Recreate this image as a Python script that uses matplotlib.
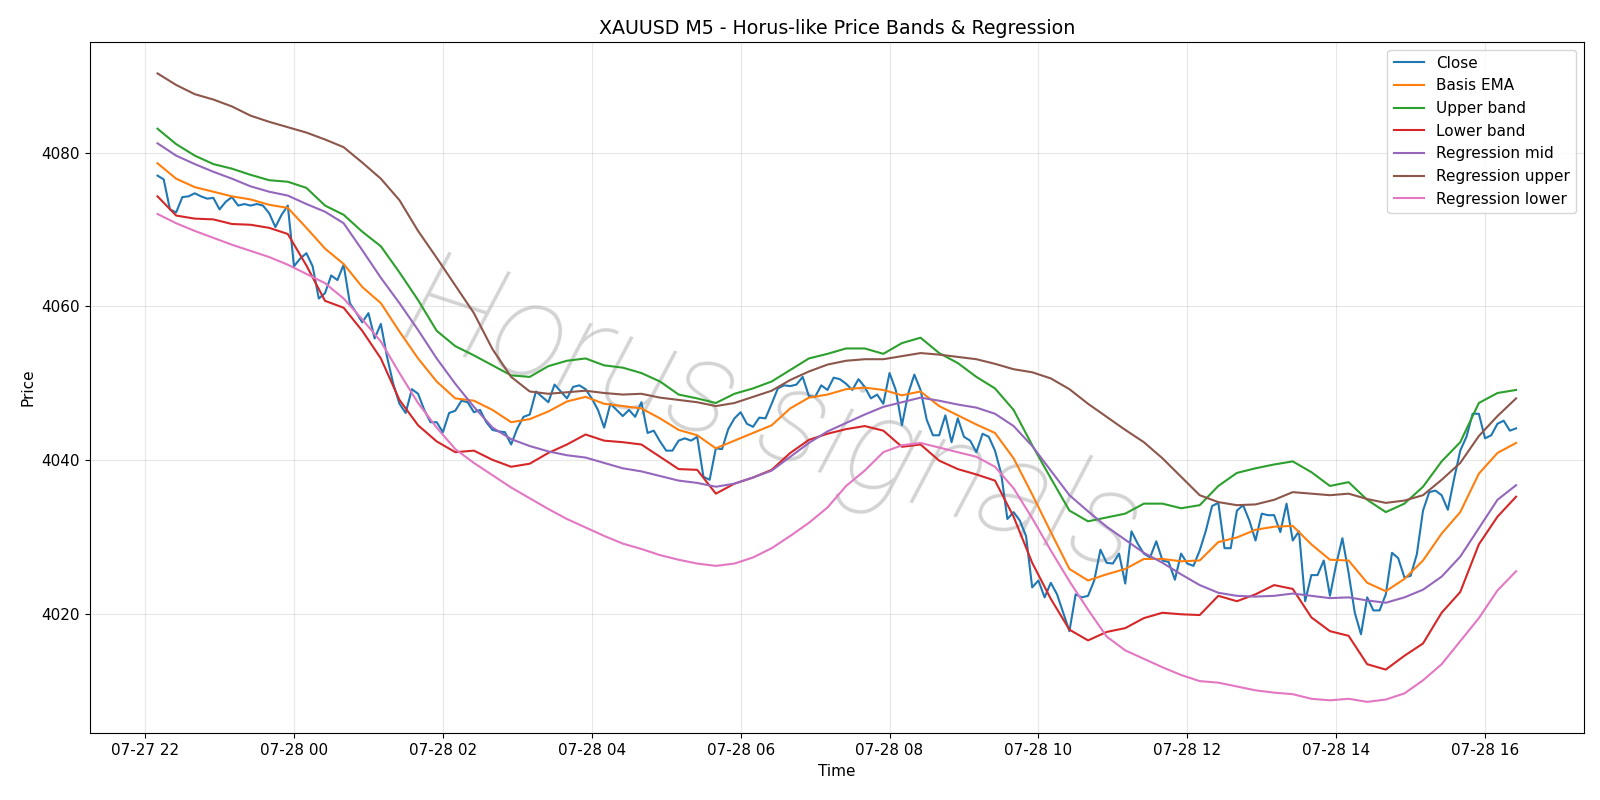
import numpy as np
import pandas as pd
import matplotlib
matplotlib.use('Agg')
import matplotlib.pyplot as plt
import matplotlib.dates as mdates
from matplotlib.ticker import MultipleLocator

plt.rcParams['font.size'] = 11

# 5-minute bars, 07-27 22:10 .. 07-28 16:25
times = pd.date_range('2025-07-27 22:10', periods=220, freq='5min')

close = [
    4077.0, 4076.5, 4072.6, 4072.2, 4074.2, 4074.3, 4074.7, 4074.3, 4074.0, 4074.1,
    4072.6, 4073.6, 4074.2, 4073.1, 4073.3, 4073.1, 4073.3, 4073.1, 4072.1, 4070.3,
    4071.9, 4073.1, 4065.2, 4066.2, 4066.9, 4065.2, 4061.0, 4061.7, 4064.0, 4063.4,
    4065.4, 4060.4, 4059.2, 4057.9, 4059.1, 4055.8, 4057.7, 4053.4, 4049.9, 4047.3,
    4046.1, 4049.2, 4048.6, 4046.5, 4044.9, 4044.9, 4043.6, 4046.1, 4046.4, 4047.7,
    4047.5, 4046.2, 4046.5, 4044.9, 4043.9, 4043.7, 4043.6, 4042.0, 4044.1, 4045.6,
    4045.9, 4048.9, 4048.2, 4047.5, 4049.8, 4048.9, 4048.0, 4049.5, 4049.7, 4049.2,
    4048.0, 4046.5, 4044.2, 4047.3, 4046.5, 4045.7, 4046.5, 4045.6, 4047.5, 4043.5,
    4043.8, 4042.4, 4041.2, 4041.2, 4042.5, 4042.8, 4042.5, 4043.0, 4037.8, 4037.4,
    4041.5, 4041.4, 4044.0, 4045.4, 4046.2, 4044.7, 4044.3, 4045.5, 4045.4, 4047.3,
    4049.3, 4049.7, 4049.6, 4049.8, 4050.8, 4048.3, 4048.2, 4049.7, 4049.1, 4050.7,
    4050.5, 4049.9, 4049.1, 4050.5, 4049.5, 4048.0, 4048.5, 4047.3, 4051.3, 4049.1,
    4044.5, 4048.6, 4051.1, 4049.1, 4045.2, 4043.2, 4043.2, 4045.8, 4042.3, 4045.4,
    4043.0, 4042.5, 4041.0, 4043.4, 4043.0, 4041.2, 4038.2, 4032.3, 4033.2, 4032.1,
    4030.1, 4023.4, 4024.3, 4022.1, 4024.0, 4022.5, 4020.1, 4017.7, 4022.5, 4022.1,
    4022.3, 4024.3, 4028.3, 4026.6, 4026.5, 4027.8, 4023.9, 4030.7, 4029.1, 4027.8,
    4027.3, 4029.4, 4026.9, 4026.7, 4024.4, 4027.8, 4026.5, 4026.2, 4028.2, 4030.8,
    4034.0, 4034.4, 4028.5, 4028.5, 4033.4, 4034.1, 4032.1, 4029.5, 4033.0, 4032.8,
    4032.8, 4030.6, 4034.3, 4029.5, 4030.7, 4021.6, 4025.0, 4025.0, 4026.9, 4022.3,
    4026.4, 4029.8, 4025.3, 4020.1, 4017.3, 4022.1, 4020.4, 4020.4, 4022.5, 4027.9,
    4027.2, 4024.7, 4024.9, 4027.7, 4033.4, 4035.8, 4036.0, 4035.4, 4033.5, 4037.5,
    4041.2, 4043.0, 4046.0, 4046.0, 4042.8, 4043.2, 4044.7, 4045.1, 4043.8, 4044.1,
]

# smooth series read every 3rd bar (15 min)
band_times = times[::3]

basis_ema = [
    4078.6, 4076.6, 4075.5, 4074.9, 4074.3, 4073.9, 4073.2, 4072.8, 4070.2, 4067.5,
    4065.5, 4062.5, 4060.4, 4056.7, 4053.2, 4050.2, 4048.0, 4047.7, 4046.5, 4044.9,
    4045.3, 4046.3, 4047.6, 4048.2, 4047.3, 4047.0, 4046.7, 4045.4, 4043.9, 4043.2,
    4041.5, 4042.5, 4043.5, 4044.5, 4046.7, 4048.1, 4048.5, 4049.2, 4049.4, 4049.1,
    4048.4, 4048.9, 4047.0, 4045.8, 4044.6, 4043.5, 4040.2, 4035.5, 4030.6, 4025.8,
    4024.3, 4025.1, 4025.8, 4027.1, 4027.1, 4026.8, 4026.9, 4029.3, 4029.9, 4030.9,
    4031.3, 4031.4, 4029.0, 4027.0, 4026.9, 4024.0, 4022.9, 4024.5, 4026.9, 4030.4,
    4033.2, 4038.2, 4040.9, 4042.2,
]

upper_band = [
    4083.1, 4081.1, 4079.6, 4078.5, 4077.9, 4077.1, 4076.4, 4076.2, 4075.4, 4073.1,
    4071.9, 4069.7, 4067.8, 4064.4, 4060.8, 4056.8, 4054.8, 4053.6, 4052.3, 4051.0,
    4050.8, 4052.2, 4052.9, 4053.2, 4052.3, 4052.0, 4051.3, 4050.2, 4048.5, 4048.0,
    4047.4, 4048.6, 4049.3, 4050.2, 4051.7, 4053.2, 4053.8, 4054.5, 4054.5, 4053.8,
    4055.2, 4055.9, 4053.9, 4052.6, 4050.8, 4049.3, 4046.5, 4041.9, 4037.6, 4033.4,
    4032.0, 4032.5, 4033.0, 4034.3, 4034.3, 4033.7, 4034.1, 4036.6, 4038.3, 4038.9,
    4039.4, 4039.8, 4038.4, 4036.6, 4037.1, 4034.8, 4033.2, 4034.3, 4036.5, 4039.8,
    4042.3, 4047.4, 4048.7, 4049.1,
]

lower_band = [
    4074.3, 4071.8, 4071.4, 4071.3, 4070.7, 4070.6, 4070.2, 4069.4, 4065.3, 4060.7,
    4059.8, 4056.8, 4053.2, 4047.8, 4044.5, 4042.4, 4041.0, 4041.2, 4040.0, 4039.1,
    4039.5, 4040.9, 4042.0, 4043.3, 4042.5, 4042.3, 4042.0, 4040.4, 4038.8, 4038.7,
    4035.6, 4036.9, 4037.7, 4038.7, 4040.9, 4042.6, 4043.4, 4044.0, 4044.4, 4043.8,
    4041.7, 4042.0, 4039.9, 4038.8, 4038.1, 4037.3, 4032.6, 4026.6, 4021.9, 4017.9,
    4016.5, 4017.6, 4018.1, 4019.4, 4020.1, 4019.9, 4019.8, 4022.3, 4021.6, 4022.5,
    4023.7, 4023.2, 4019.5, 4017.7, 4017.1, 4013.4, 4012.7, 4014.5, 4016.1, 4020.1,
    4022.8, 4029.0, 4032.6, 4035.2,
]

reg_mid = [
    4081.2, 4079.6, 4078.5, 4077.5, 4076.6, 4075.6, 4074.9, 4074.4, 4073.3, 4072.3,
    4070.8, 4067.3, 4063.7, 4060.4, 4056.9, 4053.2, 4049.9, 4046.9, 4044.2, 4042.7,
    4041.8, 4041.1, 4040.6, 4040.3, 4039.6, 4038.9, 4038.5, 4037.9, 4037.3, 4037.0,
    4036.5, 4036.9, 4037.7, 4038.6, 4040.4, 4042.2, 4043.7, 4044.8, 4045.9, 4046.9,
    4047.5, 4048.1, 4047.7, 4047.2, 4046.8, 4046.0, 4044.4, 4041.8, 4038.6, 4035.4,
    4033.3, 4031.3, 4029.6, 4027.9, 4026.6, 4025.1, 4023.7, 4022.7, 4022.3, 4022.2,
    4022.3, 4022.6, 4022.3, 4022.0, 4022.1, 4021.7, 4021.4, 4022.1, 4023.1, 4024.8,
    4027.4, 4031.1, 4034.8, 4036.7,
]

reg_upper = [
    4090.3, 4088.8, 4087.6, 4086.9, 4086.0, 4084.8, 4084.0, 4083.3, 4082.6, 4081.7,
    4080.7, 4078.7, 4076.6, 4073.8, 4069.8, 4066.3, 4062.7, 4059.1, 4054.4, 4050.8,
    4048.9, 4048.6, 4048.8, 4049.0, 4048.7, 4048.5, 4048.6, 4048.1, 4047.8, 4047.5,
    4047.0, 4047.4, 4048.2, 4049.0, 4050.4, 4051.5, 4052.4, 4052.9, 4053.1, 4053.1,
    4053.5, 4053.9, 4053.7, 4053.4, 4053.1, 4052.5, 4051.8, 4051.4, 4050.6, 4049.2,
    4047.3, 4045.6, 4043.9, 4042.3, 4040.2, 4037.8, 4035.4, 4034.5, 4034.1, 4034.2,
    4034.8, 4035.8, 4035.6, 4035.4, 4035.6, 4034.9, 4034.4, 4034.7, 4035.4, 4037.4,
    4039.6, 4043.1, 4045.7, 4048.0,
]

reg_lower = [
    4072.0, 4070.8, 4069.8, 4068.9, 4068.0, 4067.2, 4066.4, 4065.4, 4064.2, 4063.0,
    4061.0, 4058.3, 4055.4, 4051.3, 4047.4, 4044.2, 4041.4, 4039.6, 4038.0, 4036.4,
    4035.0, 4033.6, 4032.3, 4031.2, 4030.1, 4029.1, 4028.4, 4027.6, 4027.0, 4026.5,
    4026.2, 4026.5, 4027.3, 4028.5, 4030.1, 4031.8, 4033.8, 4036.6, 4038.6, 4041.0,
    4041.9, 4042.2, 4041.6, 4041.0, 4040.4, 4039.1, 4036.3, 4032.4, 4028.2, 4024.2,
    4020.5, 4017.0, 4015.2, 4014.1, 4013.0, 4012.0, 4011.2, 4011.0, 4010.5, 4010.0,
    4009.7, 4009.5, 4008.9, 4008.7, 4008.9, 4008.5, 4008.8, 4009.6, 4011.3, 4013.4,
    4016.4, 4019.4, 4023.0, 4025.5,
]

fig, ax = plt.subplots(figsize=(16, 8), dpi=100)

ax.plot(times, close, label='Close')
ax.plot(band_times, basis_ema, label='Basis EMA')
ax.plot(band_times, upper_band, label='Upper band')
ax.plot(band_times, lower_band, label='Lower band')
ax.plot(band_times, reg_mid, label='Regression mid')
ax.plot(band_times, reg_upper, label='Regression upper')
ax.plot(band_times, reg_lower, label='Regression lower')

# watermark
ax.text(0.457, 0.455, 'Horus signals', transform=ax.transAxes,
        fontsize=96, color='gray', alpha=0.35, rotation=-18,
        ha='center', va='center', family='Roboto', fontweight='light',
        fontstyle='italic', zorder=1)

ax.set_title('XAUUSD M5 - Horus-like Price Bands & Regression', fontsize=13.7)
ax.set_xlabel('Time')
ax.set_ylabel('Price')
ax.xaxis.set_major_locator(mdates.HourLocator(byhour=range(0, 24, 2)))
ax.xaxis.set_major_formatter(mdates.DateFormatter('%m-%d %H'))
ax.yaxis.set_major_locator(MultipleLocator(20))
ax.grid(True, alpha=0.3)
ax.legend(loc='upper right')

fig.subplots_adjust(left=0.056, right=0.99, top=0.9475, bottom=0.0834)
fig.savefig('out.png')
